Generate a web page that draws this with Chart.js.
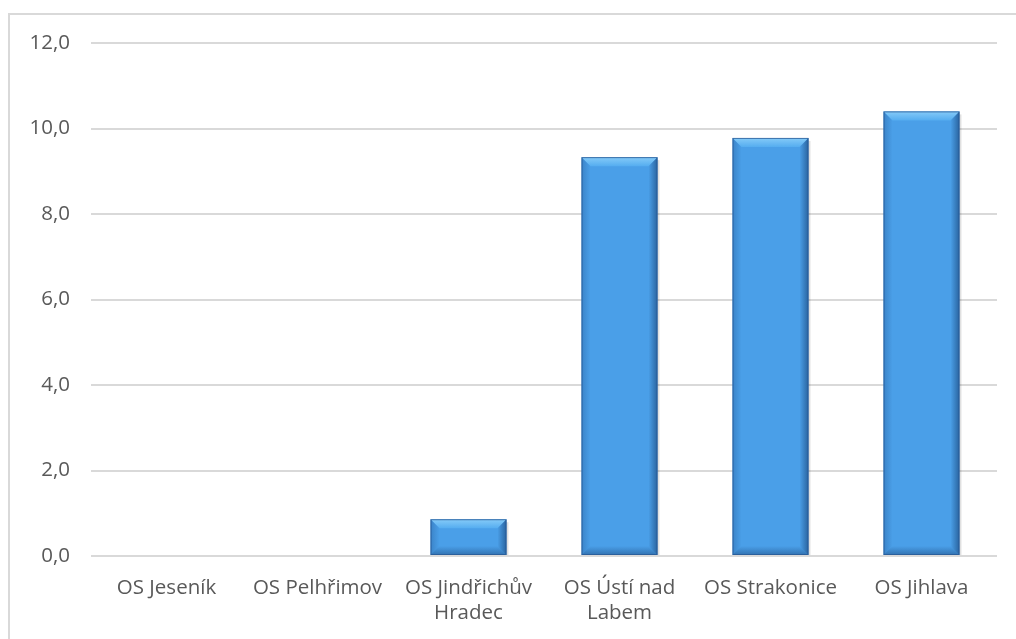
<!DOCTYPE html>
<html>
<head>
<meta charset="utf-8">
<script src="https://cdn.jsdelivr.net/npm/chart.js@4/dist/chart.umd.min.js"></script>
<style>
  html, body { margin: 0; padding: 0; background: #fff; overflow: hidden; }
  #frame {
    position: absolute; left: 8px; top: 13px;
    width: 1100px; height: 700px;
    border: 2px solid #d9d9d9;
  }
  #chart { position: absolute; left: 0; top: 0; }
</style>
</head>
<body>
<div id="frame"></div>
<canvas id="chart" width="1016" height="639"></canvas>
<script>
/* ===== Data ===== */
const categories = [
    "OS Jeseník",
    "OS Pelhřimov",
    ["OS Jindřichův", "Hradec"],
    ["OS Ústí nad", "Labem"],
    "OS Strakonice",
    "OS Jihlava"
];
const values = [0, 0, 0.86, 9.33, 9.78, 10.4];
const yTicks = [0, 2, 4, 6, 8, 10, 12];

const FONT = "'Open Sans', 'Noto Sans', sans-serif";
const TEXT = "#595959";

/* ===== Bar fill: vertical gradient per bar ===== */
function barGradient(ctx){
    const el = ctx.element;
    const c = ctx.chart.ctx;
    if(!el || el.y === undefined) return "#4a9fe8";
    const g = c.createLinearGradient(0, el.y, 0, el.base);
    g.addColorStop(0, "#4ca3ec");
    g.addColorStop(0.45, "#4592da");
    g.addColorStop(1, "#3673b5");
    return g;
}

/* ===== Bevel highlight drawn on top of each bar ===== */
const bevelPlugin = {
    id: "bevel",
    afterDatasetsDraw(chart){
        const c = chart.ctx;
        chart.getDatasetMeta(0).data.forEach(bar => {
            const h = bar.base - bar.y;
            if(h < 2) return;
            const l = bar.x - bar.width / 2, r = bar.x + bar.width / 2;
            const t = bar.y, b = bar.base;
            const s = Math.min(9, h / 3);
            c.save();
            // soft shadow on the right side
            c.fillStyle = "rgba(0,0,0,0.12)";
            c.fillRect(r, t + 3, 2, h - 3);
            // top bevel
            let g = c.createLinearGradient(0, t, 0, t + s);
            g.addColorStop(0, "#86cbf8");
            g.addColorStop(1, "#55adf0");
            c.fillStyle = g;
            c.beginPath();
            c.moveTo(l, t); c.lineTo(r, t); c.lineTo(r - s, t + s); c.lineTo(l + s, t + s);
            c.closePath(); c.fill();
            // left bevel
            g = c.createLinearGradient(l, 0, l + s, 0);
            g.addColorStop(0, "rgba(30,80,140,0.35)");
            g.addColorStop(1, "rgba(30,80,140,0)");
            c.fillStyle = g;
            c.beginPath();
            c.moveTo(l, t); c.lineTo(l + s, t + s); c.lineTo(l + s, b - s); c.lineTo(l, b);
            c.closePath(); c.fill();
            // right bevel
            g = c.createLinearGradient(r, 0, r - s, 0);
            g.addColorStop(0, "rgba(20,60,110,0.6)");
            g.addColorStop(1, "rgba(20,60,110,0)");
            c.fillStyle = g;
            c.beginPath();
            c.moveTo(r, t); c.lineTo(r - s, t + s); c.lineTo(r - s, b - s); c.lineTo(r, b);
            c.closePath(); c.fill();
            // bottom bevel
            g = c.createLinearGradient(0, b, 0, b - s);
            g.addColorStop(0, "rgba(20,60,110,0.45)");
            g.addColorStop(1, "rgba(20,60,110,0)");
            c.fillStyle = g;
            c.beginPath();
            c.moveTo(l, b); c.lineTo(r, b); c.lineTo(r - s, b - s); c.lineTo(l + s, b - s);
            c.closePath(); c.fill();
            // thin outline
            c.strokeStyle = "rgba(40,90,150,0.8)";
            c.lineWidth = 1;
            c.strokeRect(l + 0.5, t + 0.5, bar.width - 1, h - 1);
            c.restore();
        });
    }
};

/* ===== Chart ===== */
const chart = new Chart(document.getElementById("chart"), {
    type: "bar",
    data: {
        labels: categories,
        datasets: [{
            data: values,
            backgroundColor: barGradient,
            borderWidth: 0,
            categoryPercentage: 1,
            barPercentage: 0.503
        }]
    },
    options: {
        responsive: false,
        animation: false,
        layout: { padding: { left: 0, right: 19, top: 43, bottom: 0 } },
        plugins: {
            legend: { display: false },
            tooltip: { enabled: false }
        },
        scales: {
            x: {
                grid: { display: false, drawTicks: false },
                border: { display: false },
                ticks: {
                    color: TEXT,
                    font: { family: FONT, size: 20.5, lineHeight: 1.25 },
                    padding: 19,
                    maxRotation: 0,
                    autoSkip: false
                },
                afterFit(scale){ scale.height = 83; }
            },
            y: {
                min: 0,
                max: 12,
                afterBuildTicks(scale){ scale.ticks = yTicks.map(v => ({ value: v })); },
                grid: { color: "#d9d9d9", lineWidth: 2, drawTicks: false },
                border: { display: false },
                ticks: {
                    color: TEXT,
                    font: { family: FONT, size: 20.5 },
                    padding: 21,
                    callback: v => v.toFixed(1).replace(".", ",")
                },
                afterFit(scale){ scale.width = 91; }
            }
        }
    },
    plugins: [bevelPlugin]
});
</script>
</body>
</html>
